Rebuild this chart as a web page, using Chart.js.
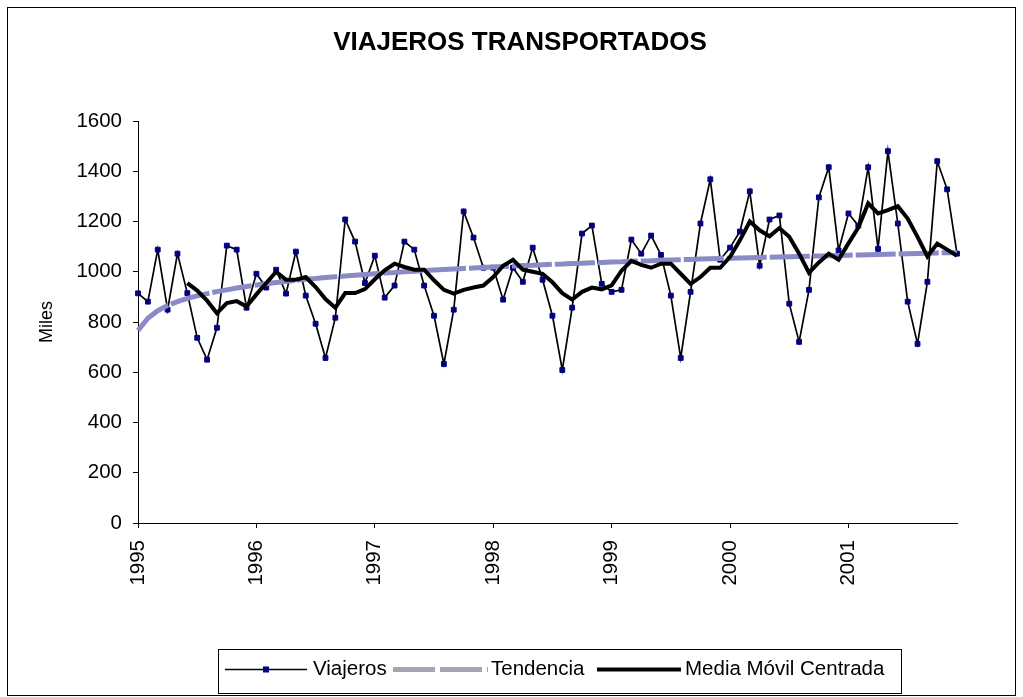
<!DOCTYPE html>
<html lang="es">
<head>
<meta charset="UTF-8">
<title>Viajeros transportados</title>
<script src="https://cdn.jsdelivr.net/npm/chart.js"></script>
<style>
  html, body { margin: 0; padding: 0; background: #fff; }
  #viajerosChart { display: block; }
</style>
</head>
<body>
<canvas id="viajerosChart" width="1023" height="697"></canvas>
<script>
// --- data (thousands of travellers, monthly 1995-2001) ---
const years = ['1995', '1996', '1997', '1998', '1999', '2000', '2001'];
const yTicks = [0, 200, 400, 600, 800, 1000, 1200, 1400, 1600];

const viajeros = [
  914, 881, 1088, 849, 1072, 915, 737, 650, 777, 1104, 1088, 857,
  992, 937, 1008, 913, 1080, 905, 793, 657, 817, 1208, 1120, 955,
  1064, 897, 945, 1120, 1088, 945, 825, 633, 849, 1240, 1136, 1016,
  1016, 889, 1016, 960, 1096, 968, 825, 609, 857, 1152, 1184, 952,
  920, 928, 1128, 1072, 1144, 1067, 905, 657, 920, 1192, 1368, 1048,
  1096, 1160, 1320, 1024, 1208, 1224, 873, 721, 928, 1296, 1416, 1085,
  1232, 1184, 1416, 1091, 1480, 1192, 881, 713, 960, 1440, 1328, 1072
];

const tendencia = [
  766, 815, 845, 866, 881, 894, 904, 913, 921, 928, 935, 941,
  947, 952, 957, 961, 966, 970, 973, 977, 980, 983, 986, 989,
  992, 995, 997, 1000, 1002, 1005, 1007, 1009, 1011, 1013, 1015, 1017,
  1019, 1021, 1023, 1025, 1026, 1028, 1030, 1031, 1033, 1034, 1036, 1037,
  1039, 1040, 1042, 1043, 1044, 1046, 1047, 1048, 1049, 1051, 1052, 1053,
  1054, 1055, 1056, 1057, 1058, 1059, 1060, 1061, 1062, 1063, 1064, 1065,
  1066, 1067, 1068, 1069, 1070, 1071, 1072, 1073, 1074, 1075, 1076, 1077
];

const mediaMovil = [
  null, null, null, null, null, 955, 925, 885, 835, 875, 883, 862,
  910, 955, 1000, 968, 968, 979, 939, 891, 857, 915, 915, 931,
  970, 1006, 1032, 1019, 1008, 1008, 966, 928, 913, 928, 937, 945,
  979, 1024, 1048, 1008, 1000, 992, 958, 915, 889, 920, 937, 930,
  946, 1004, 1043, 1027, 1016, 1032, 1032, 992, 952, 979, 1016, 1016,
  1059, 1125, 1200, 1165, 1141, 1174, 1139, 1072, 996, 1037, 1072, 1048,
  1113, 1176, 1272, 1232, 1245, 1261, 1212, 1139, 1061, 1112, 1088, 1064
];

// one category per month, only January gets its year as label
const months = years.flatMap(y => Array.from({ length: 12 }, (_, m) => y + '-' + String(m + 1).padStart(2, '0')));

const FONT = "'Liberation Sans', Arial, sans-serif";
const TREND_COLOR = '#8a8ac6';

// frame, title (off-centre like the Excel original) and legend
const framePlugin = {
    id: 'frameAndLegend',
    afterDraw(chart) {
        const ctx = chart.ctx;
        ctx.save();
        ctx.strokeStyle = '#000';
        ctx.lineWidth = 1;
        ctx.strokeRect(7.5, 7.5, 1008, 688);

        ctx.fillStyle = '#000';
        ctx.textAlign = 'center';
        ctx.textBaseline = 'middle';
        ctx.font = 'bold 26px ' + FONT;
        ctx.fillText('VIAJEROS TRANSPORTADOS', 520, 43);

        // legend box
        ctx.textAlign = 'left';
        ctx.strokeRect(218.5, 649.5, 683, 44);
        const ly = 669.5;
        ctx.font = '20.5px ' + FONT;

        ctx.lineWidth = 1.7;
        ctx.beginPath(); ctx.moveTo(225, ly); ctx.lineTo(307, ly); ctx.stroke();
        ctx.fillStyle = '#000080';
        ctx.fillRect(263, ly - 3, 6, 6);
        ctx.fillStyle = '#000';
        ctx.fillText('Viajeros', 313, ly);

        ctx.strokeStyle = '#a4a4b4';
        ctx.lineWidth = 5;
        ctx.setLineDash([42, 5]);
        ctx.beginPath(); ctx.moveTo(393, ly); ctx.lineTo(488, ly); ctx.stroke();
        ctx.setLineDash([]);
        ctx.fillText('Tendencia', 491, ly);

        ctx.strokeStyle = '#000';
        ctx.lineWidth = 4;
        ctx.beginPath(); ctx.moveTo(597, ly); ctx.lineTo(681, ly); ctx.stroke();
        ctx.fillText('Media Móvil Centrada', 685, ly);
        ctx.restore();
    }
};

new Chart(document.getElementById('viajerosChart'), {
    type: 'line',
    data: {
        labels: months,
        datasets: [{
            label: 'Viajeros',
            data: viajeros,
            borderColor: '#000',
            borderWidth: 1.7,
            pointStyle: 'rect',
            pointRadius: 3.4,
            pointBackgroundColor: '#000080',
            pointBorderColor: '#000080',
            pointBorderWidth: 1,
            tension: 0,
            order: 3
        }, {
            label: 'Tendencia',
            data: tendencia,
            borderColor: TREND_COLOR,
            borderWidth: 5,
            borderDash: [40, 3],
            pointRadius: 0,
            tension: 0,
            order: 2
        }, {
            label: 'Media Móvil Centrada',
            data: mediaMovil,
            borderColor: '#000',
            borderWidth: 4,
            pointRadius: 0,
            tension: 0,
            order: 1
        }]
    },
    options: {
        responsive: false,
        animation: false,
        layout: { padding: { left: 0, right: 66, top: 121, bottom: 104 } },
        plugins: {
            legend: { display: false },
            tooltip: { enabled: false },
            title: { display: false }
        },
        scales: {
            x: {
                type: 'category',
                offset: false,
                border: { color: '#000', width: 1 },
                grid: {
                    drawOnChartArea: false,
                    tickLength: 5,
                    tickColor: c => (c.index % 12 === 0 && c.index < months.length - 1) ? '#000' : 'rgba(0,0,0,0)'
                },
                ticks: {
                    autoSkip: false,
                    minRotation: 90,
                    maxRotation: 90,
                    padding: 12,
                    color: '#000',
                    font: { family: FONT, size: 20.5 },
                    callback: (v, i) => i % 12 === 0 ? years[i / 12] : ''
                },
                afterFit: s => { s.height = 70; }
            },
            y: {
                min: yTicks[0],
                max: yTicks[yTicks.length - 1],
                border: { color: '#000', width: 1 },
                grid: { drawOnChartArea: false, tickLength: 5, tickColor: '#000' },
                afterBuildTicks: s => { s.ticks = yTicks.map(v => ({ value: v })); },
                ticks: {
                    padding: 11,
                    color: '#000',
                    font: { family: FONT, size: 20.5 },
                    callback: v => String(v)
                },
                title: {
                    display: true,
                    text: 'Miles',
                    color: '#000',
                    font: { family: FONT, size: 18 },
                    padding: { top: 36, bottom: 0 }
                },
                afterFit: s => { s.width = 138; }
            }
        }
    },
    plugins: [framePlugin]
});
</script>
</body>
</html>
